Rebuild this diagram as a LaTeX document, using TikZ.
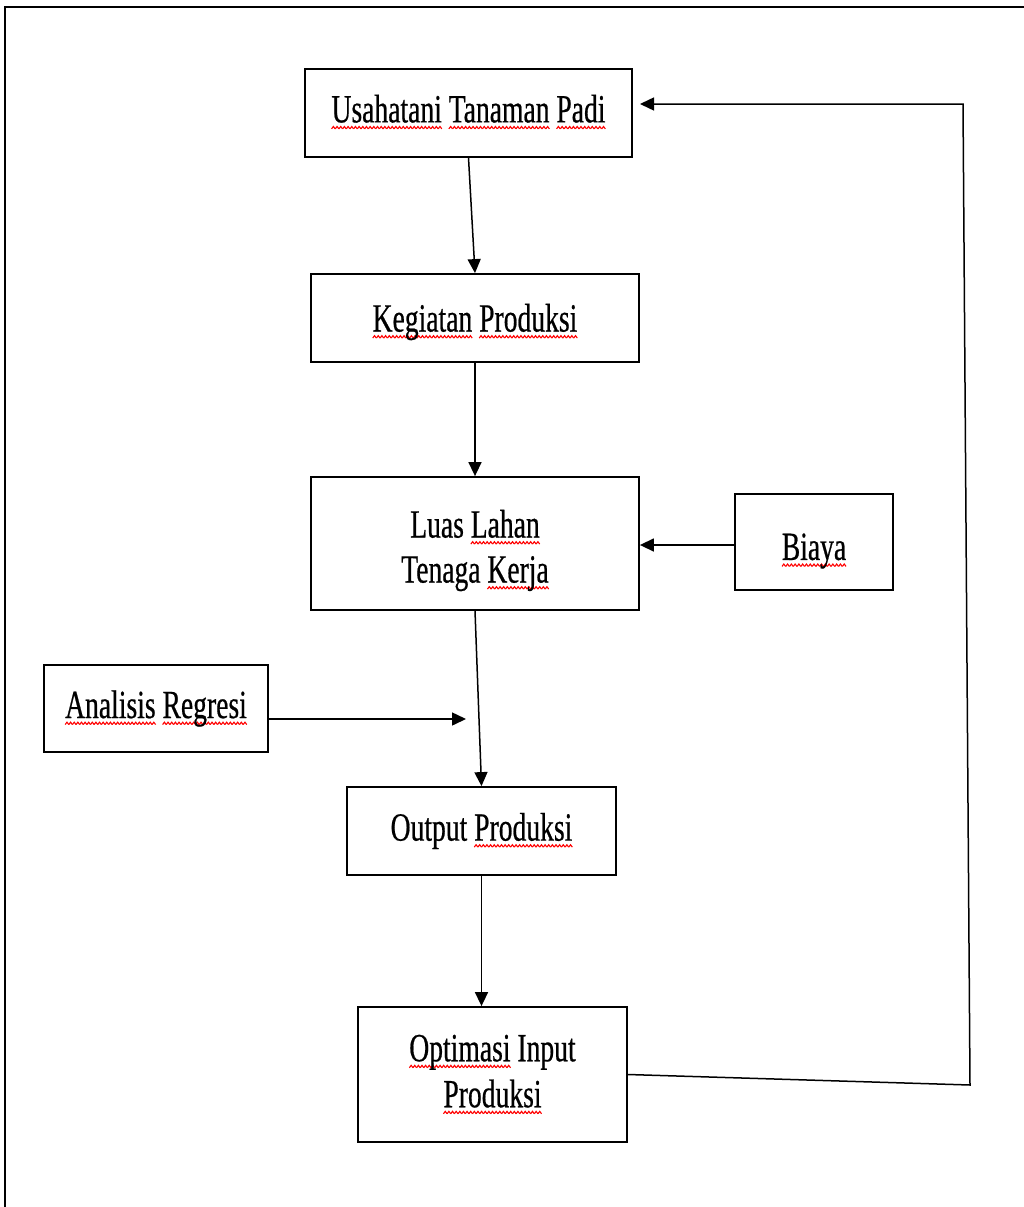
\documentclass[tikz,border=0pt]{standalone}
\usepackage{fontspec}
\setmainfont[FakeStretch=0.69,UprightFeatures={FakeBold=0.5}]{Liberation Serif}
\usetikzlibrary{arrows.meta}
\newsavebox\wavebox
\newsavebox\wordbox
\newcommand\redwave[1]{\sbox\wordbox{#1}\leavevmode\rlap{\raisebox{-7pt}{\hbox to \wd\wordbox{\xleaders\copy\wavebox\hfill}}}\usebox\wordbox}
\tikzset{
  boxnode/.style={draw,line width=1.8pt,inner sep=0pt},
  txt/.style={inner sep=0pt,align=center,font=\fontsize{40}{45}\selectfont},
  conn/.style={line width=1.5pt},
  arr/.style={conn,-{Triangle[length=14pt,width=13pt]}}
}
\begin{document}
\sbox\wavebox{\begin{pgfpicture}%
\pgfpathrectangle{\pgfpoint{0pt}{0pt}}{\pgfpoint{3.6pt}{3.4pt}}\pgfusepath{use as bounding box}%
\pgfsetstrokecolor{red}\pgfsetlinewidth{1.1pt}%
\pgfpathmoveto{\pgfpoint{0pt}{0.5pt}}\pgfpathlineto{\pgfpoint{1.8pt}{2.9pt}}\pgfpathlineto{\pgfpoint{3.6pt}{0.5pt}}%
\pgfusepath{stroke}%
\end{pgfpicture}}%
\begin{tikzpicture}[x=1pt,y=-1pt]
\useasboundingbox (0,0) rectangle (1024,1207);
\fill[white] (0,0) rectangle (1024,1207);
\draw[line width=2.2pt] (5,1207) -- (5,7) -- (1024,7);
% boxes
\node[boxnode,minimum width=327pt,minimum height=88pt] (b1) at (468.5,113) {};
\node[boxnode,minimum width=328pt,minimum height=88pt] (b2) at (475,318) {};
\node[boxnode,minimum width=328pt,minimum height=133pt] (b3) at (475,543.5) {};
\node[boxnode,minimum width=158pt,minimum height=96pt] (bia) at (814,542) {};
\node[boxnode,minimum width=224pt,minimum height=87pt] (ana) at (156,708.5) {};
\node[boxnode,minimum width=269pt,minimum height=88pt] (out) at (481.5,831) {};
\node[boxnode,minimum width=269pt,minimum height=135pt] (opt) at (492.5,1074.5) {};
% texts
\node[txt] (t1) at ([yshift=1pt]b1.center) {\redwave{Usahatani} \redwave{Tanaman} \redwave{Padi}};
\node[txt] (t2) at ([yshift=-4pt]b2.center) {\redwave{Kegiatan} \redwave{Produksi}};
\node[txt] (t3) at ([yshift=-7pt]b3.center) {Luas \redwave{Lahan}\\Tenaga \redwave{Kerja}};
\node[txt] (t4) at ([yshift=-9pt]bia.center) {\redwave{Biaya}};
\node[txt] (t5) at (ana.center) {\redwave{Analisis} \redwave{Regresi}};
\node[txt] (t6) at (out.center) {Output \redwave{Produksi}};
\node[txt,font=\fontsize{40}{46}\selectfont] (t7) at (opt.center) {\redwave{Optimasi} Input\\\redwave{Produksi}};
% connectors
\coordinate (anaend) at (466,719);
\coordinate (biay) at (700,545);
\coordinate (c1) at (970,1085);
\coordinate (c2) at (963,104);
\coordinate (c3) at (640,104);
\draw[arr] (b1.south) -- (b2.north);
\draw[arr] (b2.south) -- (b3.north);
\draw[arr] (bia.west |- biay) -- (b3.east |- biay);
\draw[arr] (b3.south) -- (out.north);
\draw[arr] (ana.east |- anaend) -- (anaend);
\draw[arr] (out.south) -- (out.south |- opt.north);
\draw[arr] (opt.east) -- (c1) -- (c2) -- (c3);
\end{tikzpicture}
\end{document}
